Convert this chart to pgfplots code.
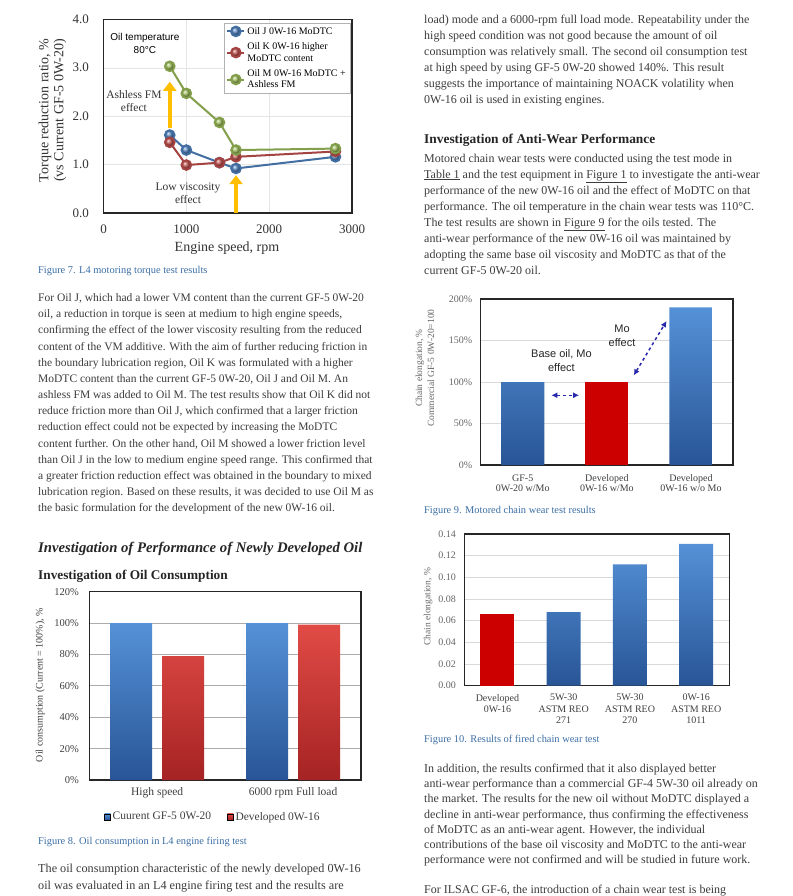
\documentclass[border=0pt]{standalone}
\usepackage{fontspec}
\setmainfont{Liberation Serif}
\newfontfamily\arial{Liberation Sans}
\usepackage{pgfplots}
\pgfplotsset{compat=1.18}
\usetikzlibrary{arrows.meta}
\definecolor{txt}{RGB}{60,60,60}
\definecolor{cap}{RGB}{60,110,165}
\definecolor{exblue}{RGB}{79,129,189}
\definecolor{exred}{RGB}{192,80,77}
\definecolor{exgreen}{RGB}{155,187,89}
\definecolor{bluetop}{RGB}{85,145,215}
\definecolor{bluebot}{RGB}{40,85,150}
\definecolor{redtop}{RGB}{225,75,70}
\definecolor{redbot}{RGB}{165,35,35}
\definecolor{mored}{RGB}{205,0,0}
\definecolor{yel}{RGB}{255,190,0}
\definecolor{dashblue}{RGB}{40,40,170}
\pgfplotsset{
  /pgf/number format/assume math mode=true,
  /pgf/number format/1000 sep={},
  every axis/.append style={scale only axis, anchor=south west, major tick length=0pt},
}
\tikzset{para/.style={anchor=north west, inner sep=0pt, align=left, text=txt},
  capt/.style={anchor=west, inner sep=0pt, text=cap, font=\fontsize{10.4}{11}\selectfont}}
\begin{document}
\begin{tikzpicture}
\useasboundingbox (0,0) rectangle (792pt,-896pt);
\fill[white] (0,0) rectangle (792pt,-896pt);

% ---------------- Figure 7
\begin{axis}[at={(103.5pt,-213pt)}, width=248.5pt, height=193.7pt,
  xmin=0, xmax=3000, ymin=0, ymax=4,
  xtick={0,1000,2000,3000}, ytick={0,1,2,3,4},
  scaled x ticks=false,
  yticklabel style={/pgf/number format/fixed, /pgf/number format/fixed zerofill,
    /pgf/number format/precision=1},
  grid=major, major grid style={gray!20},
  axis line style={black!85, line width=1.2pt},
  tick label style={font=\fontsize{13}{13}\selectfont, text=black!80},
  xticklabel style={yshift=-8pt}, yticklabel style={xshift=-11pt},
  ylabel={Torque reduction ratio, \%\\(vs Current GF-5 0W-20)},
  ylabel style={align=center, font=\fontsize{14}{15}\selectfont, text=black!80,
    at={(axis description cs:-0.205,0.53)}, anchor=center},
  xlabel={Engine speed, rpm},
  xlabel style={font=\fontsize{14}{14}\selectfont, text=black!80,
    at={(axis description cs:0.497,-0.18)}, anchor=center},
  legend style={at={(0.992,0.981)}, anchor=north east, draw=gray!60, fill=white,
    font=\fontsize{10}{11.5}\selectfont, cells={align=left}, row sep=3pt, inner sep=2pt},
  legend cell align=left,
]
\addplot[exblue!85!black, line width=2pt, mark=ball, mark options={ball color=exblue}, mark size=4.8pt]
  coordinates {(800,1.61)(1000,1.30)(1400,1.04)(1600,0.92)(2800,1.16)};
\addlegendentry{Oil J 0W-16 MoDTC}
\addplot[exred!85!black, line width=2pt, mark=ball, mark options={ball color=exred}, mark size=4.8pt]
  coordinates {(800,1.46)(1000,0.99)(1400,1.04)(1600,1.16)(2800,1.27)};
\addlegendentry{Oil K 0W-16 higher\\MoDTC content}
\addplot[exgreen!85!black, line width=2pt, mark=ball, mark options={ball color=exgreen}, mark size=4.8pt]
  coordinates {(800,3.03)(1000,2.47)(1400,1.87)(1600,1.30)(2800,1.33)};
\addlegendentry{Oil M 0W-16 MoDTC +\\Ashless FM}
\draw[yel, line width=4.5pt, -{Triangle[length=9pt,width=13pt]}] (axis cs:800,1.75) -- (axis cs:800,2.71);
\draw[yel, line width=4.5pt, -{Triangle[length=9pt,width=13pt]}] (axis cs:1600,0) -- (axis cs:1600,0.78);
\node[align=center, font=\arial\fontsize{10}{12.5}\selectfont] at (axis cs:500,3.5) {Oil temperature\\80°C};
\node[align=center, font=\fontsize{11.5}{13.5}\selectfont, text=black!80] at (axis cs:367,2.31) {Ashless FM\\effect};
\node[align=center, font=\fontsize{11.5}{13.5}\selectfont, text=black!80] at (axis cs:1020,0.41) {Low viscosity\\effect};
\end{axis}
\node[capt] at (38pt,-271pt) {Figure 7. L4 motoring torque test results};

\node[para, font=\fontsize{11.5}{16.15}\selectfont] at (38pt,-293.5pt) {%
For Oil J, which had a lower VM content than the current GF-5 0W-20\\
oil, a reduction in torque is seen at medium to high engine speeds,\\
confirming the effect of the lower viscosity resulting from the reduced\\
content of the VM additive. With the aim of further reducing friction in\\
the boundary lubrication region, Oil K was formulated with a higher\\
MoDTC content than the current GF-5 0W-20, Oil J and Oil M. An\\
ashless FM was added to Oil M. The test results show that Oil K did not\\
reduce friction more than Oil J, which confirmed that a larger friction\\
reduction effect could not be expected by increasing the MoDTC\\
content further. On the other hand, Oil M showed a lower friction level\\
than Oil J in the low to medium engine speed range. This confirmed that\\
a greater friction reduction effect was obtained in the boundary to mixed\\
lubrication region. Based on these results, it was decided to use Oil M as\\
the basic formulation for the development of the new 0W-16 oil.};

\node[anchor=west, inner sep=0pt, font=\bfseries\itshape\fontsize{14.7}{15}\selectfont, text=black!85] at (38pt,-549pt) {Investigation of Performance of Newly Developed Oil};
\node[anchor=west, inner sep=0pt, font=\bfseries\fontsize{13.3}{14}\selectfont, text=black!85] at (38pt,-576pt) {Investigation of Oil Consumption};

% ---------------- Figure 8
\begin{axis}[at={(89.3pt,-780pt)}, width=271.7pt, height=188.3pt,
  xmin=-0.5, xmax=1.5, ymin=0, ymax=120, ytick={0,20,...,120},
  yticklabel={\pgfmathprintnumber{\tick}\%},
  xtick={0,1}, xticklabels={High speed, 6000 rpm Full load},
  ymajorgrids, major grid style={gray!65, line width=0.8pt},
  ybar=10pt, bar width=42pt,
  axis line style={black!85, line width=1.2pt},
  yticklabel style={font=\fontsize{10.5}{11}\selectfont, text=black!75, xshift=-7pt},
  xticklabel style={font=\fontsize{11.5}{12}\selectfont, text=black!75, yshift=-4pt},
  ylabel={Oil consumption (Current = 100\%), \%},
  ylabel style={font=\fontsize{10}{11}\selectfont, text=black!75,
    at={(axis description cs:-0.181,0.504)}, anchor=center},
  legend style={at={(0.455,-0.196)}, anchor=center, draw=none, legend columns=2,
    font=\fontsize{11.5}{12}\selectfont, text=black!75,
    /tikz/every even column/.append style={column sep=14pt}},
  legend image code/.code={\draw[#1,/tikz/.cd] (0pt,-3pt) rectangle (6pt,3pt);},
]
\addplot[draw=none, top color=bluetop, bottom color=bluebot] coordinates {(0,100)(1,100)};
\addplot[draw=none, top color=redtop, bottom color=redbot] coordinates {(0,79)(1,99)};
\legend{Cuurent GF-5 0W-20, Developed 0W-16}
\end{axis}
\node[capt] at (38pt,-842pt) {Figure 8. Oil consumption in L4 engine firing test};
\node[para, font=\fontsize{12.2}{17}\selectfont] at (38pt,-864pt) {%
The oil consumption characteristic of the newly developed 0W-16\\
oil was evaluated in an L4 engine firing test and the results are};

% ---------------- right column text
\node[para, font=\fontsize{12}{16}\selectfont] at (424pt,-15pt) {%
load) mode and a 6000-rpm full load mode. Repeatability under the\\
high speed condition was not good because the amount of oil\\
consumption was relatively small. The second oil consumption test\\
at high speed by using GF-5 0W-20 showed 140\%. This result\\
suggests the importance of maintaining NOACK volatility when\\
0W-16 oil is used in existing engines.};
\node[anchor=west, inner sep=0pt, font=\bfseries\fontsize{13.4}{14}\selectfont, text=black!85] at (424pt,-140pt) {Investigation of Anti-Wear Performance};
\node[para, font=\fontsize{12}{16}\selectfont] at (424pt,-153.5pt) {%
Motored chain wear tests were conducted using the test mode in\\
\underline{Table 1} and the test equipment in \underline{Figure 1} to investigate the anti-wear\\
performance of the new 0W-16 oil and the effect of MoDTC on that\\
performance. The oil temperature in the chain wear tests was 110°C.\\
The test results are shown in \underline{Figure 9} for the oils tested. The\\
anti-wear performance of the new 0W-16 oil was maintained by\\
adopting the same base oil viscosity and MoDTC as that of the\\
current GF-5 0W-20 oil.};

% ---------------- Figure 9
\begin{axis}[at={(480.7pt,-465pt)}, width=252.3pt, height=166pt,
  xmin=-0.5, xmax=2.5, ymin=0, ymax=200, ytick={0,50,...,200},
  yticklabel={\pgfmathprintnumber{\tick}\%},
  xtick={0,1,2},
  xticklabels={{GF-5\\0W-20 w/Mo},{Developed\\0W-16 w/Mo},{Developed\\0W-16 w/o Mo}},
  ymajorgrids, major grid style={gray!30, line width=0.8pt},
  ybar=0pt, bar width=43pt,
  axis line style={black!85, line width=1.2pt},
  yticklabel style={font=\fontsize{10}{11}\selectfont, text=black!60, xshift=-5pt},
  xticklabel style={align=center, font=\fontsize{10}{10.5}\selectfont, text=black!75, yshift=-6pt},
  ylabel={Chain elongation, \%\\Commercial GF-5 0W-20=100},
  ylabel style={align=center, font=\fontsize{9.5}{12}\selectfont, text=black!60,
    at={(axis description cs:-0.221,0.584)}, anchor=center},
]
\addplot[draw=none, bar shift=0pt, top color=bluetop, bottom color=bluebot] coordinates {(0,100)(2,190)};
\addplot[draw=none, bar shift=0pt, fill=mored] coordinates {(1,100)};
\draw[dashblue, dashed, line width=1.5pt, {Latex[length=6pt,width=6pt]}-{Latex[length=6pt,width=6pt]}] (axis cs:0.34,84) -- (axis cs:0.67,84);
\draw[dashblue, dashed, line width=1.5pt, {Latex[length=6pt,width=6pt]}-{Latex[length=6pt,width=6pt]}] (axis cs:1.32,108) -- (axis cs:1.71,173.5);
\node[align=center, font=\arial\fontsize{11}{13.5}\selectfont, text=black!85] at (axis cs:1.18,156) {Mo\\effect};
\node[align=center, font=\arial\fontsize{11}{13.5}\selectfont, text=black!85] at (axis cs:0.46,126) {Base oil, Mo\\effect};
\end{axis}
\node[capt] at (424pt,-511pt) {Figure 9. Motored chain wear test results};

% ---------------- Figure 10
\begin{axis}[at={(464.3pt,-685.7pt)}, width=265pt, height=151.7pt,
  xmin=-0.5, xmax=3.5, ymin=0, ymax=0.14, ytick={0,0.02,...,0.14},
  scaled y ticks=false,
  yticklabel style={/pgf/number format/fixed, /pgf/number format/fixed zerofill,
    /pgf/number format/precision=2},
  xtick={0,1,2,3},
  xticklabels={{Developed\\0W-16},{5W-30\\ASTM REO\\271},{5W-30\\ASTM REO\\270},{0W-16\\ASTM REO\\1011}},
  ymajorgrids, major grid style={gray!30, line width=0.8pt},
  ybar=0pt, bar width=34pt,
  axis line style={black!85, line width=1.2pt},
  yticklabel style={font=\fontsize{10}{11}\selectfont, text=black!60, xshift=-5pt},
  xticklabel style={align=center, font=\fontsize{10}{11.3}\selectfont, text=black!75, yshift=-5pt},
  ylabel={Chain elongation, \%},
  ylabel style={font=\fontsize{9.5}{11}\selectfont, text=black!60,
    at={(axis description cs:-0.137,0.52)}, anchor=center},
]
\addplot[draw=none, bar shift=0pt, fill=mored] coordinates {(0,0.066)};
\addplot[draw=none, bar shift=0pt, top color=bluetop, bottom color=bluebot] coordinates {(1,0.068)(2,0.112)(3,0.131)};
\end{axis}
\node[capt] at (424pt,-740pt) {Figure 10. Results of fired chain wear test};

\node[para, font=\fontsize{12}{15.3}\selectfont] at (424pt,-763.5pt) {%
In addition, the results confirmed that it also displayed better\\
anti-wear performance than a commercial GF-4 5W-30 oil already on\\
the market. The results for the new oil without MoDTC displayed a\\
decline in anti-wear performance, thus confirming the effectiveness\\
of MoDTC as an anti-wear agent. However, the individual\\
contributions of the base oil viscosity and MoDTC to the anti-wear\\
performance were not confirmed and will be studied in future work.};
\node[para, font=\fontsize{12}{15.3}\selectfont] at (424pt,-884.5pt) {For ILSAC GF-6, the introduction of a chain wear test is being};
\end{tikzpicture}
\end{document}
